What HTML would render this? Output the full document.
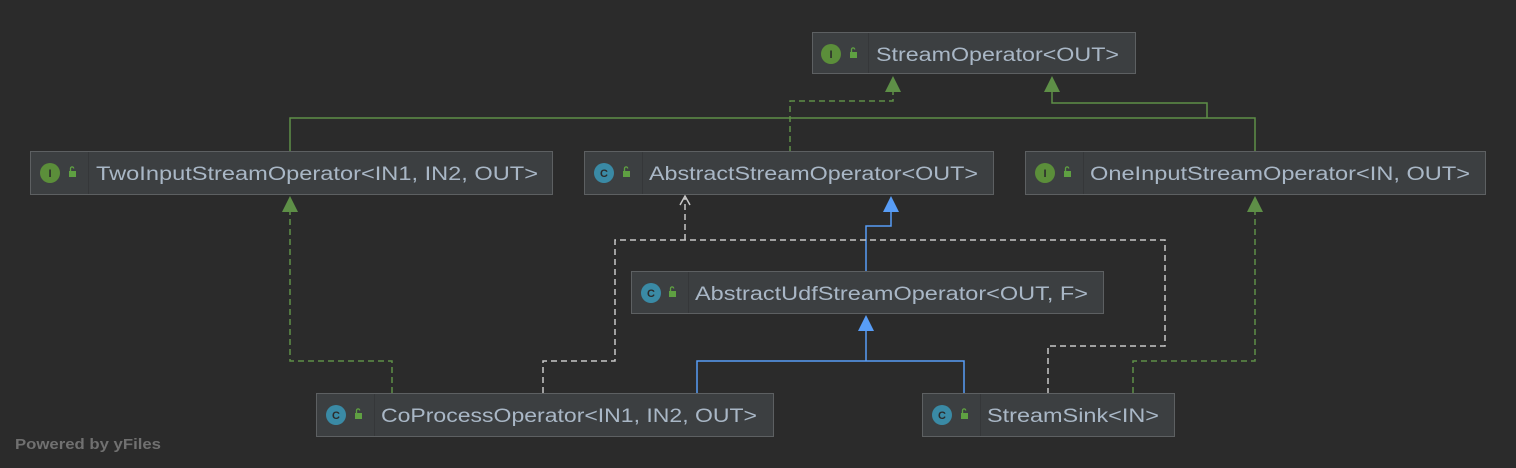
<!DOCTYPE html>
<html><head><meta charset="utf-8"><style>
html,body{margin:0;padding:0;background:#2b2b2b;}
svg{display:block;}
text{font-family:"Liberation Sans",sans-serif;}
</style></head><body>
<svg width="1516" height="468" viewBox="0 0 1516 468" xmlns="http://www.w3.org/2000/svg">
<rect width="1516" height="468" fill="#2b2b2b"/>
<defs>
<g id="lock"><rect x="0" y="4" width="7" height="6" fill="#5fa042"/><path d="M1.5 4 V1.5 A1.6 1.6 0 0 1 4.7 1.5" stroke="#5fa042" stroke-width="1.3" fill="none"/></g>
</defs>
<g fill="none" stroke-width="1.5">
<!-- green solid -->
<polyline points="290,152 290,118 1255,118 1255,152" stroke="#5e8f47"/>
<polyline points="1207,118 1207,103 1052,103 1052,90" stroke="#5e8f47"/>
<!-- green dashed -->
<polyline points="790,152 790,101 893,101 893,90" stroke="#5e8f47" stroke-dasharray="6,4"/>
<polyline points="392,393 392,361 290,361 290,210" stroke="#5e8f47" stroke-dasharray="6,4"/>
<polyline points="1133,393 1133,361 1255,361 1255,210" stroke="#5e8f47" stroke-dasharray="6,4"/>
<!-- blue -->
<polyline points="866,271 866,226 891,226 891,210" stroke="#589df6"/>
<polyline points="697,393 697,361 964,361 964,393" stroke="#589df6"/>
<line x1="866" y1="361" x2="866" y2="330" stroke="#589df6"/>
<!-- white dashed -->
<polyline points="543,393 543,361 615,361 615,240 1165,240 1165,346 1048,346 1048,393" stroke="#c8c8c8" stroke-dasharray="6,4"/>
<line x1="685" y1="240" x2="685" y2="198" stroke="#c8c8c8" stroke-dasharray="6,4"/>
<polyline points="680,205 685,196 690,205" stroke="#c8c8c8"/>
</g>
<!-- arrowheads -->
<g fill="#5e8f47">
<polygon points="893,76 885,92 901,92"/>
<polygon points="1052,76 1044,92 1060,92"/>
<polygon points="290,196 282,212 298,212"/>
<polygon points="1255,196 1247,212 1263,212"/>
</g>
<g fill="#589df6">
<polygon points="891,196 883,212 899,212"/>
<polygon points="866,315 858,331 874,331"/>
</g>
<!-- boxes -->
<g stroke="#5d6062" stroke-width="1" fill="#3c3f41">
<rect x="812.5" y="32.5" width="323" height="41"/>
<rect x="30.5" y="151.5" width="522" height="43"/>
<rect x="584.5" y="151.5" width="409" height="43"/>
<rect x="1025.5" y="151.5" width="460" height="43"/>
<rect x="631.5" y="271.5" width="472" height="42"/>
<rect x="316.5" y="393.5" width="457" height="43"/>
<rect x="922.5" y="393.5" width="252" height="43"/>
</g>
<g stroke="#353739" stroke-width="1">
<line x1="868.5" y1="33" x2="868.5" y2="73"/>
<line x1="88.5" y1="152" x2="88.5" y2="194"/>
<line x1="642.5" y1="152" x2="642.5" y2="194"/>
<line x1="1083.5" y1="152" x2="1083.5" y2="194"/>
<line x1="688.5" y1="272" x2="688.5" y2="313"/>
<line x1="374.5" y1="394" x2="374.5" y2="436"/>
<line x1="980.5" y1="394" x2="980.5" y2="436"/>
</g>
<!-- icons -->
<g font-size="11" font-weight="bold" text-anchor="middle">
<circle cx="831" cy="54" r="10" fill="#5b8e3a"/><text x="831" y="58" fill="#2b2b2b">I</text>
<circle cx="50" cy="173" r="10" fill="#5b8e3a"/><text x="50" y="177" fill="#2b2b2b">I</text>
<circle cx="1045" cy="173" r="10" fill="#5b8e3a"/><text x="1045" y="177" fill="#2b2b2b">I</text>
<circle cx="604" cy="173" r="10" fill="#3a8aa5"/><text x="604" y="177" fill="#2b2b2b">C</text>
<circle cx="651" cy="293" r="10" fill="#3a8aa5"/><text x="651" y="297" fill="#2b2b2b">C</text>
<circle cx="336" cy="415" r="10" fill="#3a8aa5"/><text x="336" y="419" fill="#2b2b2b">C</text>
<circle cx="942" cy="415" r="10" fill="#3a8aa5"/><text x="942" y="419" fill="#2b2b2b">C</text>
</g>
<use href="#lock" x="850" y="48"/>
<use href="#lock" x="69" y="167"/>
<use href="#lock" x="1064" y="167"/>
<use href="#lock" x="623" y="167"/>
<use href="#lock" x="669" y="287"/>
<use href="#lock" x="355" y="409"/>
<use href="#lock" x="961" y="409"/>
<!-- labels -->
<g fill="#a9b7c6" font-size="19">
<text x="876" y="61" textLength="243" lengthAdjust="spacingAndGlyphs">StreamOperator&lt;OUT&gt;</text>
<text x="96" y="180" textLength="442" lengthAdjust="spacingAndGlyphs">TwoInputStreamOperator&lt;IN1, IN2, OUT&gt;</text>
<text x="649" y="180" textLength="329" lengthAdjust="spacingAndGlyphs">AbstractStreamOperator&lt;OUT&gt;</text>
<text x="1090" y="180" textLength="380" lengthAdjust="spacingAndGlyphs">OneInputStreamOperator&lt;IN, OUT&gt;</text>
<text x="695" y="300" textLength="393" lengthAdjust="spacingAndGlyphs">AbstractUdfStreamOperator&lt;OUT, F&gt;</text>
<text x="381" y="422" textLength="376" lengthAdjust="spacingAndGlyphs">CoProcessOperator&lt;IN1, IN2, OUT&gt;</text>
<text x="987" y="422" textLength="172" lengthAdjust="spacingAndGlyphs">StreamSink&lt;IN&gt;</text>
</g>
<text x="15" y="449" fill="#707070" font-size="15" font-weight="bold" textLength="146" lengthAdjust="spacingAndGlyphs">Powered by yFiles</text>
</svg>
</body></html>
